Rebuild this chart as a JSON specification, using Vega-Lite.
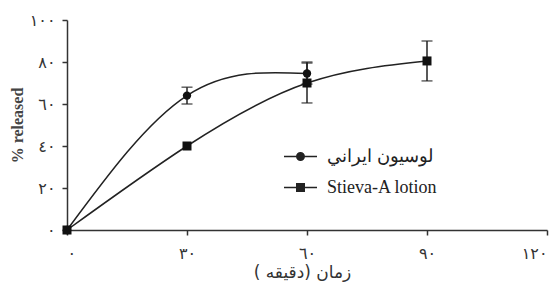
{
  "$schema": "https://vega.github.io/schema/vega-lite/v6.json",
  "width": 480,
  "height": 210,
  "autosize": {"type": "none"},
  "padding": {"left": 67, "top": 20, "right": 11, "bottom": 55},
  "background": "white",
  "config": {
    "view": {"stroke": null},
    "axis": {
      "grid": false,
      "domainColor": "#333",
      "domainWidth": 1.5,
      "tickColor": "#333",
      "tickWidth": 1.5,
      "tickSize": 5,
      "labelColor": "#333",
      "titleColor": "#444",
      "labelFont": "DejaVu Sans",
      "labelFontSize": 16
    }
  },
  "data": {
    "values": [
      {"series": "لوسيون ايراني", "time": 0, "value": 0, "lower": null, "upper": null},
      {"series": "لوسيون ايراني", "time": 30, "value": 64, "lower": 60, "upper": 68},
      {"series": "لوسيون ايراني", "time": 60, "value": 74.5, "lower": 69.5, "upper": 80},
      {"series": "Stieva-A lotion", "time": 0, "value": 0, "lower": null, "upper": null},
      {"series": "Stieva-A lotion", "time": 30, "value": 40, "lower": null, "upper": null},
      {"series": "Stieva-A lotion", "time": 60, "value": 70, "lower": 60.5, "upper": 79.5},
      {"series": "Stieva-A lotion", "time": 90, "value": 80.5, "lower": 71, "upper": 90}
    ]
  },
  "encoding": {
    "x": {
      "field": "time",
      "type": "quantitative",
      "scale": {"domain": [0, 120], "nice": false},
      "axis": {
        "values": [0, 30, 60, 90, 120],
        "labelExpr": "datum.value==0?'٠':datum.value==30?'٣٠':datum.value==60?'٦٠':datum.value==90?'٩٠':'١٢٠'",
        "labelPadding": 10,
        "title": "زمان (دقيقه )",
        "titleFont": "DejaVu Sans",
        "titleFontSize": 17,
        "titleFontWeight": "normal",
        "titleX": 235,
        "titleY": 42,
        "titleBaseline": "middle",
        "titleColor": "#333"
      }
    }
  },
  "layer": [
    {
      "mark": {"type": "line", "interpolate": "natural", "color": "#222", "strokeWidth": 1.5},
      "encoding": {
        "y": {
          "field": "value",
          "type": "quantitative",
          "scale": {"domain": [0, 100], "nice": false},
          "title": "% released",
          "axis": {
            "values": [0, 20, 40, 60, 80, 100],
            "labelExpr": "datum.value==0?'٠':datum.value==20?'٢٠':datum.value==40?'٤٠':datum.value==60?'٦٠':datum.value==80?'٨٠':'١٠٠'",
            "labelPadding": 7,
            "titleFont": "Liberation Serif",
            "titleFontSize": 16,
            "titleFontWeight": "bold",
            "titleAngle": -90,
            "titleX": -50,
            "titleY": 105,
            "titleAlign": "center",
            "titleBaseline": "middle"
          }
        },
        "detail": {"field": "series"}
      }
    },
    {
      "transform": [{"filter": "datum.lower != null"}],
      "mark": {"type": "rule", "color": "#222", "strokeWidth": 1.5},
      "encoding": {
        "y": {"field": "lower", "type": "quantitative", "title": "% released"},
        "y2": {"field": "upper"}
      }
    },
    {
      "transform": [{"filter": "datum.lower != null"}],
      "mark": {"type": "tick", "orient": "horizontal", "color": "#222", "size": 11, "thickness": 1.5},
      "encoding": {
        "y": {"field": "lower", "type": "quantitative", "title": "% released"}
      }
    },
    {
      "transform": [{"filter": "datum.upper != null"}],
      "mark": {"type": "tick", "orient": "horizontal", "color": "#222", "size": 11, "thickness": 1.5},
      "encoding": {
        "y": {"field": "upper", "type": "quantitative", "title": "% released"}
      }
    },
    {
      "transform": [{"filter": "datum.series == 'Stieva-A lotion'"}],
      "mark": {"type": "square", "color": "#111", "opacity": 1, "size": 81},
      "encoding": {
        "y": {"field": "value", "type": "quantitative", "title": "% released"}
      }
    },
    {
      "transform": [{"filter": "datum.series != 'Stieva-A lotion'"}],
      "mark": {"type": "circle", "color": "#111", "opacity": 1, "size": 70},
      "encoding": {
        "y": {"field": "value", "type": "quantitative", "title": "% released"}
      }
    },
    {
      "mark": {"type": "point", "filled": false, "color": "#222", "strokeWidth": 1.5, "opacity": 0, "size": 30},
      "encoding": {
        "y": {"field": "value", "type": "quantitative", "title": "% released"},
        "shape": {
          "field": "series",
          "type": "nominal",
          "scale": {
            "domain": ["لوسيون ايراني", "Stieva-A lotion"],
            "range": [
              "M-1,0L1,0M0.227,0A0.227,0.227,0,1,1,-0.227,0A0.227,0.227,0,1,1,0.227,0ZM0.152,0A0.152,0.152,0,1,1,-0.152,0A0.152,0.152,0,1,1,0.152,0ZM0.076,0A0.076,0.076,0,1,1,-0.076,0A0.076,0.076,0,1,1,0.076,0ZM0.018,0A0.018,0.018,0,1,1,-0.018,0A0.018,0.018,0,1,1,0.018,0Z",
              "M-1,0L1,0M-0.227,-0.227H0.227V0.227H-0.227ZM-0.152,-0.152H0.152V0.152H-0.152ZM-0.076,-0.076H0.076V0.076H-0.076ZM-0.018,-0.018H0.018V0.018H-0.018Z"
            ]
          },
          "legend": {
            "title": null,
            "orient": "none",
            "legendX": 216,
            "legendY": 119,
            "padding": 0,
            "symbolSize": 1089,
            "symbolOpacity": 1,
            "symbolStrokeWidth": 1.5,
            "symbolStrokeColor": "#222",
            "rowPadding": 4,
            "labelOffset": 9,
            "labelFont": "Liberation Serif",
            "labelFontSize": 18,
            "labelColor": "#222"
          }
        }
      }
    }
  ]
}
